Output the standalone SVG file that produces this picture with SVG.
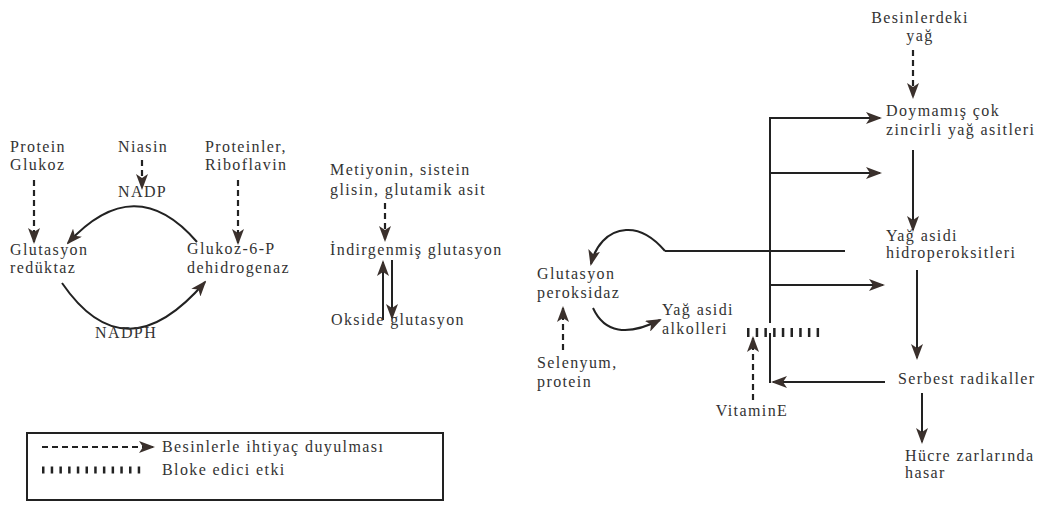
<svg xmlns="http://www.w3.org/2000/svg" width="1042" height="505" viewBox="0 0 1042 505">
<style>
text{font-family:"Liberation Serif","Times New Roman",serif;font-size:16px;fill:#333;letter-spacing:1.4px}
.ln{stroke:#222;stroke-width:2;fill:none}
.ds{stroke:#222;stroke-width:2.2;fill:none;stroke-dasharray:6,4}
.tk{stroke:#222;fill:none;stroke-dasharray:2.5,6.2}
</style>
<defs>
<marker id="ah" markerUnits="userSpaceOnUse" markerWidth="16" markerHeight="12" refX="14" refY="6" orient="auto">
<path d="M0,0 L16,6 L0,12 L4,6 z" fill="#3a302c"/>
</marker>
</defs>
<rect width="1042" height="505" fill="#fff"/>

<g id="connectors">
<path class="ds" d="M34,180 V242" marker-end="url(#ah)"/>
<path class="ds" d="M142,160 V188" marker-end="url(#ah)"/>
<path class="ds" d="M238,180 V243" marker-end="url(#ah)"/>
<path class="ln" d="M197,242 Q135,170 68,243" marker-end="url(#ah)"/>
<path class="ln" d="M62,283 Q125,375 205,282" marker-end="url(#ah)"/>
<path class="ds" d="M385,203 V240" marker-end="url(#ah)"/>
<path class="ln" d="M383,320 V262" marker-end="url(#ah)"/>
<path class="ln" d="M392,260 V318" marker-end="url(#ah)"/>
<path class="ds" d="M913,50 V97" marker-end="url(#ah)"/>
<path class="ln" d="M913,150 V230" marker-end="url(#ah)"/>
<path class="ln" d="M917,270 V358" marker-end="url(#ah)"/>
<path class="ln" d="M922,393 V442" marker-end="url(#ah)"/>
<path class="ln" d="M770,118 V323"/>
<path class="ln" d="M770,333 V383"/>
<path class="ln" d="M769,118 H880" marker-end="url(#ah)"/>
<path class="ln" d="M770,173 H880" marker-end="url(#ah)"/>
<path class="ln" d="M770,285 H883" marker-end="url(#ah)"/>
<path class="ln" d="M665,251 H845"/>
<path class="ln" d="M885,382 H773" marker-end="url(#ah)"/>
<path class="ln" d="M665,251 C654,238 642,229 626,230 C607,231 595,247 591,264" marker-end="url(#ah)"/>
<path class="ln" d="M593,308 Q610,345 660,320" marker-end="url(#ah)"/>
<path class="ds" d="M563,350 V308" marker-end="url(#ah)"/>
<path class="ds" d="M753,400 V338" marker-end="url(#ah)"/>
<path class="tk" d="M747,332.5 H820" style="stroke-width:9"/>
</g>

<g id="protein-glukoz"><text x="10" y="152">Protein</text><text x="10" y="170">Glukoz</text></g>
<g id="niasin"><text x="118" y="152">Niasin</text></g>
<g id="nadp"><text x="118" y="197">NADP</text></g>
<g id="proteinler"><text x="205" y="152">Proteinler,</text><text x="205" y="170">Riboflavin</text></g>
<g id="glutasyon-reduktaz"><text x="10" y="255">Glutasyon</text><text x="10" y="273">redüktaz</text></g>
<g id="g6pd"><text x="187" y="254">Glukoz-6-P</text><text x="187" y="273">dehidrogenaz</text></g>
<g id="nadph"><text x="95" y="338">NADPH</text></g>

<g id="metiyonin"><text x="330" y="175">Metiyonin, sistein</text><text x="330" y="195">glisin, glutamik asit</text></g>
<g id="indirgenmis"><text x="330" y="255">İndirgenmiş glutasyon</text></g>
<g id="okside"><text x="331" y="325">Okside glutasyon</text></g>

<g id="besinlerdeki"><text x="920" y="23" text-anchor="middle">Besinlerdeki</text><text x="920" y="41" text-anchor="middle">yağ</text></g>
<g id="doymamis"><text x="886" y="116">Doymamış çok</text><text x="886" y="135">zincirli yağ asitleri</text></g>
<g id="hidroperoksit"><text x="886" y="241">Yağ asidi</text><text x="886" y="258">hidroperoksitleri</text></g>
<g id="serbest"><text x="898" y="384">Serbest radikaller</text></g>
<g id="hucre"><text x="905" y="461">Hücre zarlarında</text><text x="905" y="478">hasar</text></g>
<g id="peroksidaz"><text x="537" y="279">Glutasyon</text><text x="537" y="298">peroksidaz</text></g>
<g id="alkol"><text x="662" y="315">Yağ asidi</text><text x="662" y="334">alkolleri</text></g>
<g id="selenyum"><text x="537" y="368">Selenyum,</text><text x="537" y="387">protein</text></g>
<g id="vitamine"><text x="752" y="416" text-anchor="middle">VitaminE</text></g>

<g id="legend">
<rect x="27" y="433" width="416" height="67" fill="none" stroke="#222" stroke-width="2"/>
<path class="ds" d="M42,447 H153" marker-end="url(#ah)"/>
<path class="tk" d="M42,470 H146" style="stroke-width:7"/>
<text x="162" y="452">Besinlerle ihtiyaç duyulması</text>
<text x="162" y="475">Bloke edici etki</text>
</g>
</svg>
